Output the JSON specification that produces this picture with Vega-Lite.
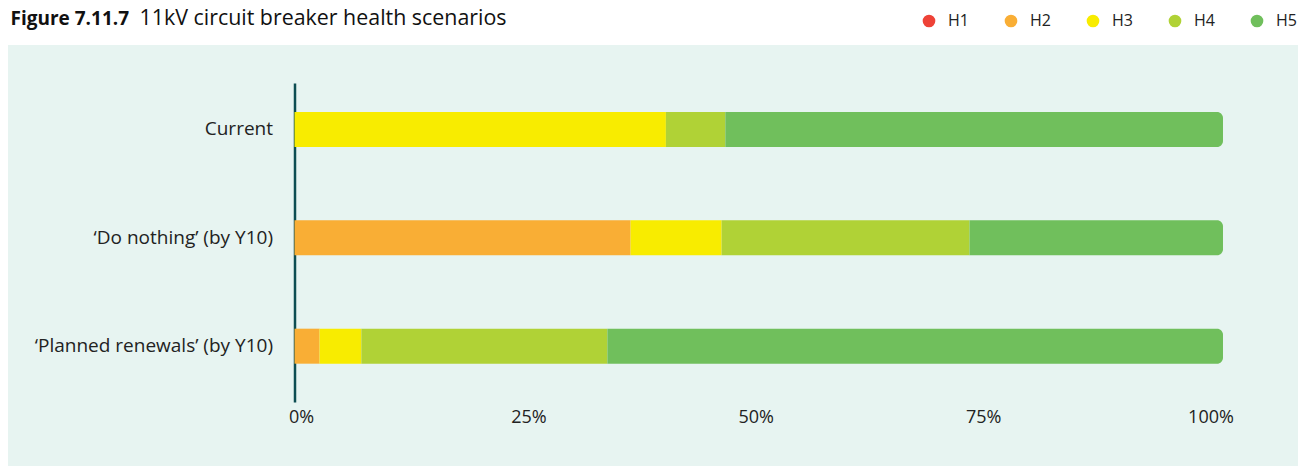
{
  "$schema": "https://vega.github.io/schema/vega-lite/v6.json",
  "width": 1290,
  "height": 421,
  "autosize": {"type": "none"},
  "padding": {"left": 8, "top": 45, "right": 10, "bottom": 0},
  "background": "#ffffff",
  "config": {"view": {"fill": "#e7f4f1", "stroke": null}, "font": "Open Sans"},
  "data": {
    "values": [
      {"scenario": "Current", "band": "H3", "value": 40.0},
      {"scenario": "Current", "band": "H4", "value": 6.4},
      {"scenario": "Current", "band": "H5", "value": 53.6},
      {"scenario": "‘Do nothing’ (by Y10)", "band": "H2", "value": 36.2},
      {"scenario": "‘Do nothing’ (by Y10)", "band": "H3", "value": 9.8},
      {"scenario": "‘Do nothing’ (by Y10)", "band": "H4", "value": 26.7},
      {"scenario": "‘Do nothing’ (by Y10)", "band": "H5", "value": 27.3},
      {"scenario": "‘Planned renewals’ (by Y10)", "band": "H2", "value": 2.7},
      {"scenario": "‘Planned renewals’ (by Y10)", "band": "H3", "value": 4.5},
      {"scenario": "‘Planned renewals’ (by Y10)", "band": "H4", "value": 26.5},
      {"scenario": "‘Planned renewals’ (by Y10)", "band": "H5", "value": 66.3}
    ]
  },
  "transform": [
    {"stack": "value", "groupby": ["scenario"], "sort": [{"field": "band", "order": "ascending"}], "as": ["x0", "x1"]}
  ],
  "encoding": {
    "y": {
      "field": "scenario",
      "type": "nominal",
      "sort": ["Current", "‘Do nothing’ (by Y10)", "‘Planned renewals’ (by Y10)"],
      "scale": {"range": [38, 357], "paddingInner": 0.677, "paddingOuter": 0.31, "align": 0.43},
      "axis": {
        "title": "Figure 7.11.7",
        "titleX": -284.5,
        "titleY": -20.5,
        "titleAngle": 0,
        "titleAlign": "left",
        "titleBaseline": "alphabetic",
        "titleFontSize": 19,
        "titleFontWeight": "bold",
        "titleColor": "#111111",
        "offset": -286.5,
        "domainColor": "#0d4d52",
        "domainWidth": 2.5,
        "ticks": false,
        "labelPadding": 22,
        "labelFontSize": 19,
        "labelColor": "#222222",
        "labelLimit": 400
      }
    },
    "x": {
      "field": "x0",
      "type": "quantitative",
      "scale": {"domain": [-30.856, 108.078], "nice": false, "zero": false},
      "axis": {
        "title": "11kV circuit breaker health scenarios",
        "titleX": 131,
        "titleY": -383.5,
        "titleAlign": "left",
        "titleAnchor": "start",
        "titleBaseline": "alphabetic",
        "titleFontSize": 21.4,
        "titleFontWeight": "normal",
        "titleColor": "#111111",
        "offset": -58,
        "values": [0, 25, 50, 75, 100],
        "labelExpr": "datum.value + '%'",
        "labelOffset": {"expr": "6.5 - 0.19 * datum.value"},
        "domain": false,
        "ticks": false,
        "grid": false,
        "labelPadding": 0,
        "labelFontSize": 18,
        "labelColor": "#222222"
      }
    },
    "x2": {"field": "x1"},
    "color": {
      "field": "band",
      "type": "nominal",
      "scale": {"domain": ["H1", "H2", "H3", "H4", "H5"], "range": ["#ee4237", "#f9ae35", "#f8ec00", "#b0d236", "#70bf5c"]},
      "legend": {
        "orient": "none",
        "legendX": 913,
        "legendY": -32,
        "direction": "horizontal",
        "title": null,
        "symbolType": "circle",
        "symbolSize": 160,
        "symbolStrokeWidth": 0,
        "symbolOpacity": 1,
        "labelFontSize": 16,
        "labelOffset": 11,
        "columnPadding": 34,
        "labelColor": "#222222"
      }
    }
  },
  "layer": [
    {"transform": [{"filter": "datum.band != 'H5'"}], "mark": {"type": "bar"}},
    {"transform": [{"filter": "datum.band == 'H5'"}], "mark": {"type": "bar", "cornerRadiusTopRight": 6, "cornerRadiusBottomRight": 6}}
  ]
}
